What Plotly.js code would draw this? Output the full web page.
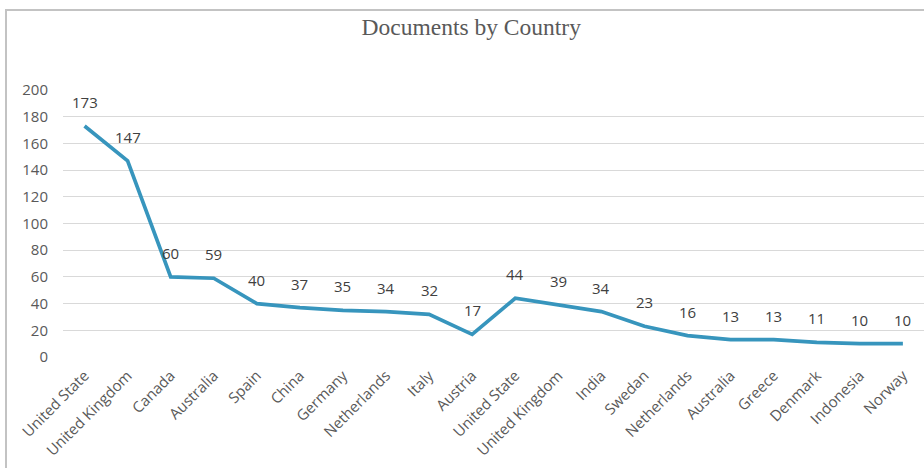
<!DOCTYPE html>
<html><head><meta charset="utf-8">
<script src="https://cdn.plot.ly/plotly-3.0.1.min.js"></script>
<style>
html,body{margin:0;padding:0;overflow:hidden;background:#fff;width:924px;height:468px;}
#frame{position:absolute;left:5px;top:9px;width:940px;height:480px;border:2px solid #c3c3c3;box-sizing:border-box;}
#chart{position:absolute;left:0;top:0;width:924px;height:468px;}
</style></head>
<body>
<div id="frame"></div>
<div id="chart"></div>
<script>
const countries = ["United State","United Kingdom","Canada","Australia","Spain","China","Germany","Netherlands","Italy","Austria","United State","United Kingdom","India","Swedan","Netherlands","Australia","Greece","Denmark","Indonesia","Norway"];
const documents = [173,147,60,59,40,37,35,34,32,17,44,39,34,23,16,13,13,11,10,10];
const yTicks = [0,20,40,60,80,100,120,140,160,180,200];
</script>
<script>
const cats = countries;
const idx = cats.map((_, i) => i);
const grey = '#595959';
const trace = {
  x: idx, y: documents, type: 'scatter', mode: 'lines',
  line: {color: '#3795bd', width: 3.7},
  hoverinfo: 'skip'
};
const annotations = idx.map(i => ({
  x: i, y: documents[i], xref: 'x', yref: 'y',
  text: String(documents[i]), showarrow: false, yshift: 24,
  font: {family: 'Open Sans, sans-serif', size: 15, color: '#404040'}
}));
const layout = {
  width: 924, height: 468,
  paper_bgcolor: 'rgba(0,0,0,0)', plot_bgcolor: 'rgba(0,0,0,0)',
  margin: {l: 63, r: 0, t: 90, b: 111},
  title: {text: 'Documents by Country', x: 0.51, xanchor: 'center', y: 0.943, yanchor: 'middle',
          font: {family: 'Liberation Serif, serif', size: 23.5, color: grey}},
  showlegend: false,
  xaxis: {
    range: [-0.5, cats.length - 0.51], tickmode: 'array', tickvals: idx, ticktext: cats,
    tickangle: -45, showgrid: false, zeroline: false, showline: false, ticks: '',
    ticklabelstandoff: 6,
    tickfont: {family: 'Open Sans, sans-serif', size: 15, color: grey}, fixedrange: true
  },
  yaxis: {
    range: [0, 200], tickmode: 'array', tickvals: yTicks,
    showgrid: true, gridcolor: '#d9d9d9', gridwidth: 1, zeroline: false, showline: false, ticks: '',
    tickfont: {family: 'Open Sans, sans-serif', size: 15, color: grey}, ticklabelstandoff: 14, fixedrange: true
  },
  annotations: annotations
};
Plotly.newPlot('chart', [trace], layout, {displayModeBar: false, staticPlot: true});
</script>
</body></html>
